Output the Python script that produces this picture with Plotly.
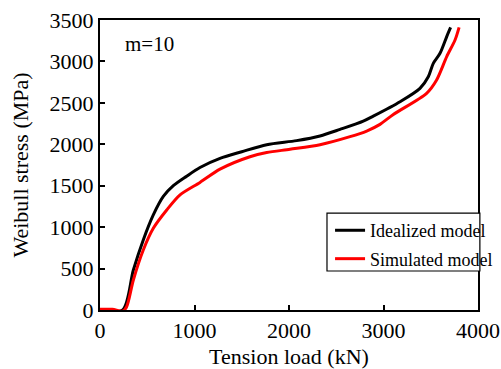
import plotly.graph_objects as go

ideal_x = [0, 240, 353, 458, 564, 670, 776, 917, 1058, 1270, 1500, 1764, 2081, 2328, 2540, 2786, 2892, 3175, 3386, 3474, 3527, 3598, 3669, 3710]
ideal_y = [0, 0, 483, 845, 1147, 1370, 1500, 1615, 1720, 1830, 1910, 1995, 2044, 2100, 2180, 2280, 2340, 2514, 2675, 2816, 2977, 3098, 3300, 3410]

sim_x = [0, 130, 240, 282, 353, 458, 564, 706, 847, 1058, 1270, 1587, 1764, 2011, 2328, 2646, 2822, 2963, 3104, 3456, 3562, 3669, 3757, 3800]
sim_y = [8, 8, -15, 40, 362, 724, 986, 1207, 1390, 1540, 1700, 1850, 1900, 1940, 1995, 2092, 2160, 2240, 2360, 2615, 2776, 3058, 3259, 3412]

x_ticks = [0, 1000, 2000, 3000, 4000]
y_ticks = [0, 500, 1000, 1500, 2000, 2500, 3000, 3500]

font = "Liberation Serif, Times New Roman, serif"

fig = go.Figure()
fig.add_trace(go.Scatter(x=ideal_x, y=ideal_y, mode="lines", name="Idealized model", legendgroup="a",
                         line=dict(color="black", width=3, shape="spline", smoothing=0.8)))
fig.add_trace(go.Scatter(x=sim_x, y=sim_y, mode="lines", name="Simulated model", legendgroup="b",
                         line=dict(color="#ff0000", width=3, shape="spline", smoothing=0.8)))

axis_common = dict(showgrid=False, zeroline=False, showline=True, linecolor="black", linewidth=2,
                   mirror=True, ticks="inside", ticklen=5, tickwidth=1.5, tickcolor="black",
                   automargin=False,
                   tickfont=dict(family=font, size=22, color="black"))

fig.update_xaxes(range=[0, 4000], tickvals=x_ticks, ticktext=[str(v) for v in x_ticks],
                 title=dict(text="Tension load (kN)", font=dict(family=font, size=22, color="black")),
                 **axis_common)
fig.update_yaxes(range=[0, 3500], tickvals=y_ticks, ticktext=[str(v) for v in y_ticks],
                 title=dict(text="Weibull stress (MPa)", font=dict(family=font, size=22, color="black")),
                 **axis_common)

fig.add_annotation(x=0.06, y=0.917, xref="paper", yref="paper", text="m=10", showarrow=False,
                   xanchor="left", yanchor="middle", font=dict(family=font, size=21, color="black"))

# legend frame (white filled, covers the right axis line like the reference)
fig.add_shape(type="rect", xref="paper", yref="paper", x0=0.6005, x1=1.005, y0=0.1345, y1=0.334,
              line=dict(color="black", width=1.2), fillcolor="white", layer="above")

fig.update_layout(
    width=501, height=369,
    margin=dict(l=100, r=23, t=20, b=59, autoexpand=False),
    paper_bgcolor="white", plot_bgcolor="white",
    showlegend=True,
    legend=dict(x=0.6086, y=0.3377, xanchor="left", yanchor="top",
                borderwidth=0, bgcolor="rgba(0,0,0,0)",
                font=dict(family=font, size=18, color="black"),
                tracegroupgap=2, itemwidth=30),
)

fig.write_html("out.html")
